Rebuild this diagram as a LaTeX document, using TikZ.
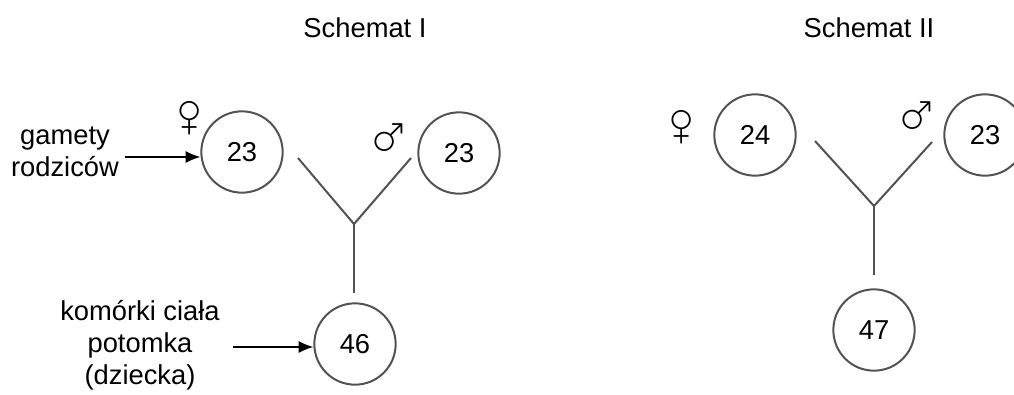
\documentclass[tikz,border=0pt]{standalone}
\usepackage{fontspec}
\setmainfont{Liberation Sans}
\usepackage{wasysym}
\usetikzlibrary{arrows.meta}
\newcommand{\bigsym}[1]{\scalebox{1.35}{#1}}
\begin{document}
\begin{tikzpicture}[x=0.75pt,y=-0.75pt,
  cell/.style={circle,draw=black!68,line width=1.5pt,minimum size=61pt,inner sep=0pt,font=\fontsize{20.5}{24}\selectfont},
  lbl/.style={align=center,inner sep=0pt,font=\fontsize{20.5}{24}\selectfont},
  ttl/.style={inner sep=0pt,font=\fontsize{20.5}{24}\selectfont},
  sym/.style={inner sep=0pt,font=\fontsize{24.88}{26}\selectfont},
  yline/.style={draw=black!68,line width=1.5pt},
  arr/.style={line width=1pt,-{Latex[length=11pt,width=9pt]}}]
\useasboundingbox (0,0) rectangle (1014,394);
% Schemat I
\node[ttl] (t1) at (365,28) {Schemat I};
\node[cell] (c1) at (242,152) {23};
\node[cell] (c2) at (459,153) {23};
\node[cell] (c3) at (355,344) {46};
\node[sym] (f1) at (190,118) {\bigsym{\female}};
\node[sym] (m1) at (390,136) {\bigsym{\male}};
\coordinate (y1l) at (298,158);
\coordinate (y1r) at (411,158);
\coordinate (y1j) at (354,224);
\coordinate (y1b) at (354,293);
\draw[yline] (y1l) -- (y1j) -- (y1r);
\draw[yline] (y1j) -- (y1b);
\node[lbl] (g1) at (65,152) {gamety\\rodziców};
\node[lbl] (k1) at (140,345) {komórki ciała\\potomka\\(dziecka)};
\coordinate (a1) at (125,157);
\coordinate (a2) at (233,347);
\draw[arr] (a1) -- (a1 -| c1.west);
\draw[arr] (a2) -- (a2 -| c3.west);
% Schemat II
\node[ttl] (t2) at (869,28) {Schemat II};
\node[cell] (c4) at (755,135) {24};
\node[cell] (c5) at (985,135) {23};
\node[cell] (c6) at (874,330) {47};
\node[sym] (f2) at (682,127) {\bigsym{\female}};
\node[sym] (m2) at (918,114) {\bigsym{\male}};
\coordinate (y2l) at (815,141);
\coordinate (y2r) at (932,142);
\coordinate (y2j) at (874,206);
\coordinate (y2b) at (874,275);
\draw[yline] (y2l) -- (y2j) -- (y2r);
\draw[yline] (y2j) -- (y2b);
\end{tikzpicture}
\end{document}
